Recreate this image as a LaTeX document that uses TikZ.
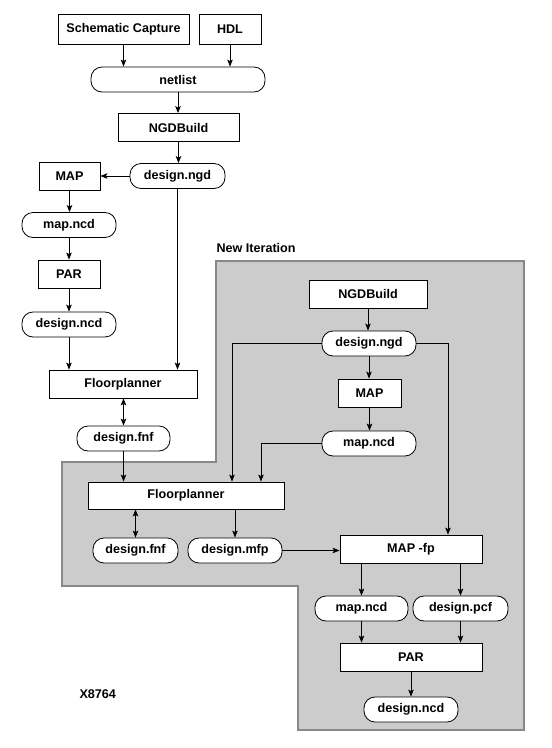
\documentclass[tikz,border=0pt]{standalone}
\usepackage{fontspec}
\setmainfont{Liberation Sans}
\usetikzlibrary{positioning,arrows.meta}

\definecolor{itergray}{HTML}{CCCCCC}
\definecolor{iteredge}{HTML}{888888}

\begin{document}
\begin{tikzpicture}[x=1pt,y=-1pt,
    font=\fontsize{12.6}{14}\selectfont\bfseries,
    >={Stealth[length=7pt,width=5.5pt,inset=1.5pt]},
    tool/.style={draw, thick, fill=white, inner sep=0pt, minimum height=28pt},
    file/.style={draw, thick, fill=white, inner sep=0pt, minimum height=25pt, rounded corners=11pt}]
   \useasboundingbox (0,0) rectangle (552,748);
   % new iteration area
   \filldraw[fill=itergray, draw=iteredge, line width=2pt]
      (216,261) -- (524,261) -- (524,730) -- (298,730) -- (298,586)
      -- (62,586) -- (62,462) -- (216,462) -- cycle;
   \node[anchor=west] (newit) at (213,248) {New Iteration};
   \node[anchor=west] (xnum) at (76,694) {X8764};

   % first pass
   \node[tool, minimum width=131pt, minimum height=30pt] (sc)    at (123.5,29)  {Schematic Capture};
   \node[tool, minimum width=62pt, minimum height=30pt]  (hdl)   at (230,29)    {HDL};
   \node[file, minimum width=174pt] (netlist) at (178,79.5)  {netlist};
   \node[tool, minimum width=121pt] (ngdb_a)  at (178.5,127.5) {NGDBuild};
   \node[file, minimum width=95pt]  (ngd_a)   at (177.5,176) {design.ngd};
   \node[tool, minimum width=61pt]  (map_a)   at (69.5,176)  {MAP};
   \node[file, minimum width=94pt]  (mncd_a)  at (69,225)    {map.ncd};
   \node[tool, minimum width=62pt]  (par_a)   at (69,274)    {PAR};
   \node[file, minimum width=94pt]  (dncd_a)  at (69,324.5)  {design.ncd};
   \node[tool, minimum width=148pt] (fp_a)    at (123,384)   {Floorplanner};
   \node[file, minimum width=93pt]  (fnf_a)   at (123.5,438.5) {design.fnf};

   % new iteration
   \node[tool, minimum width=118pt] (ngdb_b)  at (368,294)   {NGDBuild};
   \node[file, minimum width=94pt]  (ngd_b)   at (369,343.5) {design.ngd};
   \node[tool, minimum width=63pt]  (map_b)   at (369.5,393) {MAP};
   \node[file, minimum width=94pt]  (mncd_b)  at (369,443.5) {map.ncd};
   \node[tool, minimum width=196pt, minimum height=27pt] (fp_b) at (186,495.5) {Floorplanner};
   \node[file, minimum width=85pt]  (fnf_b)   at (135.5,550.5) {design.fnf};
   \node[file, minimum width=94pt]  (mfp)     at (235,550.5) {design.mfp};
   \node[tool, minimum width=142pt] (mapfp)   at (411,549)   {MAP -fp};
   \node[file, minimum width=93pt]  (mncd_c)  at (361.5,608.5) {map.ncd};
   \node[file, minimum width=95pt]  (pcf)     at (460.5,608.5) {design.pcf};
   \node[tool, minimum width=142pt] (par_b)   at (411,657)   {PAR};
   \node[file, minimum width=94pt]  (dncd_b)  at (411,709.5) {design.ncd};

   \begin{scope}[thick]
    \draw[->] (sc.south) -- (sc |- netlist.north);
    \draw[->] (hdl.south) -- (hdl |- netlist.north);
    \draw[->] (netlist.south) -- (netlist |- ngdb_a.north);
    \draw[->] (ngdb_a.south) -- (ngdb_a |- ngd_a.north);
    \draw[->] (ngd_a.west) -- (map_a.east);
    \draw[->] (map_a.south) -- (map_a |- mncd_a.north);
    \draw[->] (mncd_a.south) -- (mncd_a |- par_a.north);
    \draw[->] (par_a.south) -- (par_a |- dncd_a.north);
    \draw[->] (dncd_a.south) -- (dncd_a |- fp_a.north);
    \draw[->] (ngd_a.south) -- (ngd_a |- fp_a.north);
    \draw[<->] (fnf_a |- fp_a.south) -- (fnf_a.north);
    \draw[->] (fnf_a.south) -- (fnf_a |- fp_b.north);

    \draw[->] (ngdb_b.south) -- (ngdb_b |- ngd_b.north);
    \draw[->] (ngd_b.south) -- (ngd_b |- map_b.north);
    \draw[->] (map_b.south) -- (map_b |- mncd_b.north);
    \draw[->] (ngd_b.west) -| ([xshift=46pt]fp_b.north);
    \draw[->] (mncd_b.west) -| ([xshift=75pt]fp_b.north);
    \draw[->] (ngd_b.east) -| ([xshift=37pt]mapfp.north);
    \draw[<->] (fnf_b |- fp_b.south) -- (fnf_b.north);
    \draw[->] (mfp |- fp_b.south) -- (mfp.north);
    \draw[->] (mfp.east) -- (mfp.east -| mapfp.west);
    \draw[->] (mncd_c |- mapfp.south) -- (mncd_c.north);
    \draw[->] (pcf |- mapfp.south) -- (pcf.north);
    \draw[->] (mncd_c.south) -- (mncd_c |- par_b.north);
    \draw[->] (pcf.south) -- (pcf |- par_b.north);
    \draw[->] (par_b.south) -- (par_b |- dncd_b.north);
   \end{scope}
\end{tikzpicture}
\end{document}
